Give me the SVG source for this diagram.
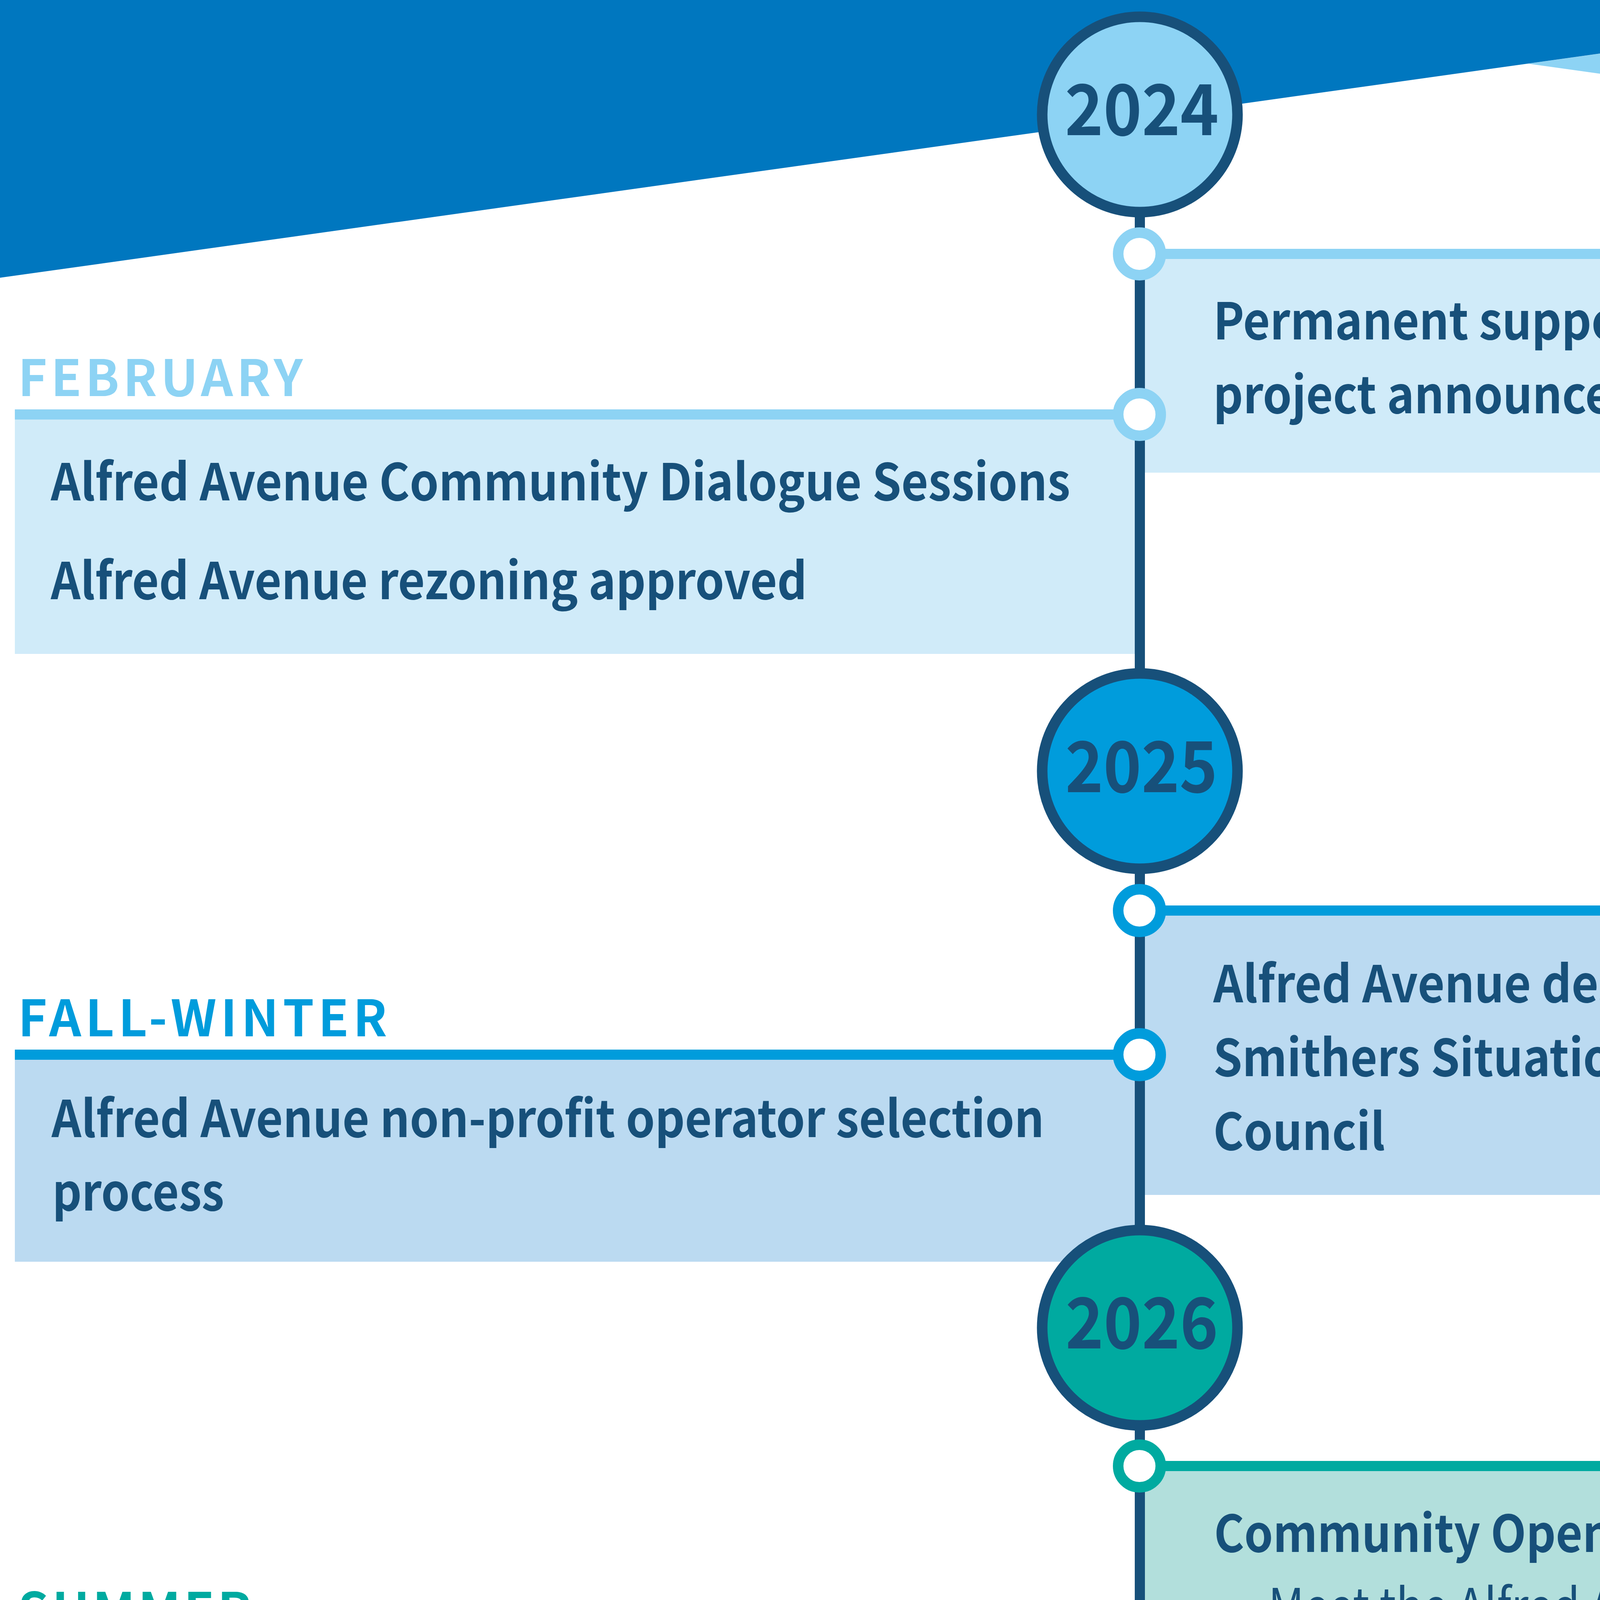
<svg xmlns="http://www.w3.org/2000/svg" width="5868" height="6728" viewBox="0 0 5868 6728">
<style>
.t{font-family:"Noto Sans CJK SC","Source Sans Pro","Lato",sans-serif;font-weight:700;font-size:130px;fill:#17507A}
.r{font-weight:400}
.lab{font-family:"Noto Sans CJK SC","Source Sans Pro","Lato",sans-serif;font-weight:700;font-size:128px}
.yr{font-family:"Noto Sans CJK SC","Source Sans Pro","Lato",sans-serif;font-weight:700;font-size:180px;fill:#17507A;text-anchor:middle}
.ycirc{stroke:#17507A;stroke-width:27}
.dot{fill:#fff;stroke-width:27}
.hl{stroke-width:26;fill:none}
</style>
<rect width="5868" height="6728" fill="#ffffff"/>
<g id="background">
<polygon points="3912,163 5074,0 5868,0 5868,436" fill="#8DD3F4"/>
<polygon points="0,0 5074,0 0,711" fill="#0077BF"/>
</g>
<g id="event-jan-2024">
<rect x="2918" y="663" width="2887" height="547" fill="#D0EBF9"/>
<line class="hl" x1="2917" y1="650" x2="5805" y2="650" stroke="#8DD3F4"/>
<text class="lab" x="5805" y="603" text-anchor="end" fill="#8DD3F4" textLength="637" lengthAdjust="spacing">JANUARY</text>
<text class="t" x="3106" y="869" textLength="2499" lengthAdjust="spacingAndGlyphs">Permanent supportive housing and shelter</text>
<text class="t" x="3106" y="1058" textLength="2132" lengthAdjust="spacingAndGlyphs">project announced for Alfred Avenue</text>
</g>
<g id="event-feb-2024">
<rect x="38" y="1074" width="2880" height="600" fill="#D0EBF9"/>
<line class="hl" x1="38" y1="1061" x2="2917" y2="1061" stroke="#8DD3F4"/>
<text class="lab" x="46" y="1014" fill="#8DD3F4" textLength="729" lengthAdjust="spacing">FEBRUARY</text>
<text class="t" x="130" y="1281" textLength="2610" lengthAdjust="spacingAndGlyphs">Alfred Avenue Community Dialogue Sessions</text>
<text class="t" x="130" y="1534" textLength="1936" lengthAdjust="spacingAndGlyphs">Alfred Avenue rezoning approved</text>
</g>
<g id="event-mayjune-2025">
<rect x="2918" y="2344" width="2887" height="715" fill="#BBDAF1"/>
<line class="hl" x1="2917" y1="2331" x2="5805" y2="2331" stroke="#009CDC"/>
<text class="lab" x="5805" y="2284" text-anchor="end" fill="#009CDC" textLength="705" lengthAdjust="spacing">MAY-JUNE</text>
<text class="t" x="3106" y="2566" textLength="2280" lengthAdjust="spacingAndGlyphs">Alfred Avenue design engagement with</text>
<text class="t" x="3106" y="2755" textLength="2593" lengthAdjust="spacingAndGlyphs">Smithers Situation Table and Smithers Town</text>
<text class="t" x="3106" y="2944" textLength="440" lengthAdjust="spacingAndGlyphs">Council</text>
</g>
<g id="event-fallwinter-2025">
<rect x="38" y="2713" width="2880" height="517" fill="#BBDAF1"/>
<line class="hl" x1="38" y1="2700" x2="2917" y2="2700" stroke="#009CDC"/>
<text class="lab" x="46" y="2653" fill="#009CDC" textLength="945" lengthAdjust="spacing">FALL-WINTER</text>
<text class="t" x="132" y="2911" textLength="2541" lengthAdjust="spacingAndGlyphs">Alfred Avenue non-profit operator selection</text>
<text class="t" x="134" y="3099" textLength="440" lengthAdjust="spacingAndGlyphs">process</text>
</g>
<g id="event-spring-2026">
<rect x="2918" y="3766" width="2887" height="688" fill="#B2DFDC"/>
<line class="hl" x1="2917" y1="3753" x2="5805" y2="3753" stroke="#00AAA0"/>
<text class="lab" x="5800" y="3707" text-anchor="end" fill="#00AAA0" textLength="522" lengthAdjust="spacing">SPRING</text>
<text class="t" x="3108" y="3973" textLength="1410" lengthAdjust="spacingAndGlyphs">Community Open House</text>
<text class="t r" x="3108" y="4160" textLength="1836" lengthAdjust="spacingAndGlyphs">· Meet the Alfred Avenue operator</text>
<text class="t r" x="3108" y="4346" textLength="2101" lengthAdjust="spacingAndGlyphs">· Interim shelter engagement and Q&amp;A</text>
</g>
<g id="event-summer-2026">
<rect x="38" y="4230" width="2880" height="609" fill="#B2DFDC"/>
<line class="hl" x1="38" y1="4217" x2="2917" y2="4217" stroke="#00AAA0"/>
<text class="lab" x="46" y="4170" fill="#00AAA0" textLength="598" lengthAdjust="spacing">SUMMER</text>
<text class="t" x="130" y="4438" textLength="2534" lengthAdjust="spacingAndGlyphs">Council decision on interim shelter location</text>
<text class="t" x="130" y="4692" textLength="2388" lengthAdjust="spacingAndGlyphs">Interim shelter estimate renovation start</text>
</g>
<g id="event-fallwinter-2026">
<rect x="2918" y="4852" width="2887" height="758" fill="#B2DFDC"/>
<line class="hl" x1="2917" y1="4839" x2="5805" y2="4839" stroke="#00AAA0"/>
<text class="lab" x="5805" y="4792" text-anchor="end" fill="#00AAA0" textLength="940" lengthAdjust="spacing">FALL-WINTER</text>
<text class="t" x="3108" y="5058" textLength="2619" lengthAdjust="spacingAndGlyphs">Alfred Avenue permanent housing and shelter</text>
<text class="t" x="3110" y="5246" textLength="1015" lengthAdjust="spacingAndGlyphs">construction start</text>
<text class="t" x="3108" y="5498" textLength="1916" lengthAdjust="spacingAndGlyphs">Interim shelter estimate opening</text>
</g>
<g id="event-winter-2028">
<rect x="38" y="6053" width="5767" height="675" fill="#DCEAC3"/>
<line class="hl" x1="38" y1="6040" x2="5805" y2="6040" stroke="#8DC63F"/>
<text class="lab" x="42" y="5978" fill="#8DC63F" textLength="548" lengthAdjust="spacing">WINTER</text>
<text class="t" x="2916" y="6357" text-anchor="middle" textLength="3960" lengthAdjust="spacingAndGlyphs">Estimated completion of permanent supportive housing and shelter</text>
<text class="t" x="2920" y="6611" text-anchor="middle" textLength="1484" lengthAdjust="spacingAndGlyphs">Closure of interim shelter</text>
</g>
<g id="connectors">
<line x1="2918" y1="293" x2="2918" y2="5938" stroke="#17507A" stroke-width="26"/>
</g>
<g id="markers">
<circle class="dot" cx="2917" cy="650" r="54.5" stroke="#8DD3F4"/>
<circle class="dot" cx="2917" cy="1061" r="54.5" stroke="#8DD3F4"/>
<circle class="dot" cx="2917" cy="2331" r="54.5" stroke="#009CDC"/>
<circle class="dot" cx="2917" cy="2700" r="54.5" stroke="#009CDC"/>
<circle class="dot" cx="2917" cy="3753" r="54.5" stroke="#00AAA0"/>
<circle class="dot" cx="2917" cy="4217" r="54.5" stroke="#00AAA0"/>
<circle class="dot" cx="2917" cy="4839" r="54.5" stroke="#00AAA0"/>
</g>
<g id="year-2024">
<circle class="ycirc" cx="2918" cy="293" r="250" fill="#8DD3F4"/>
<text class="yr" x="2923" y="346" textLength="394" lengthAdjust="spacingAndGlyphs">2024</text>
</g>
<g id="year-2025">
<circle class="ycirc" cx="2918" cy="1974" r="250" fill="#009CDC"/>
<text class="yr" x="2922" y="2028" textLength="390" lengthAdjust="spacingAndGlyphs">2025</text>
</g>
<g id="year-2026">
<circle class="ycirc" cx="2918" cy="3399" r="250" fill="#00AAA0"/>
<text class="yr" x="2923" y="3452" textLength="391" lengthAdjust="spacingAndGlyphs">2026</text>
</g>
<g id="year-2028">
<circle class="ycirc" cx="2918" cy="5938" r="250" fill="#8DC63F"/>
<text class="yr" x="2922" y="5993" textLength="390" lengthAdjust="spacingAndGlyphs">2028</text>
</g>
</svg>
